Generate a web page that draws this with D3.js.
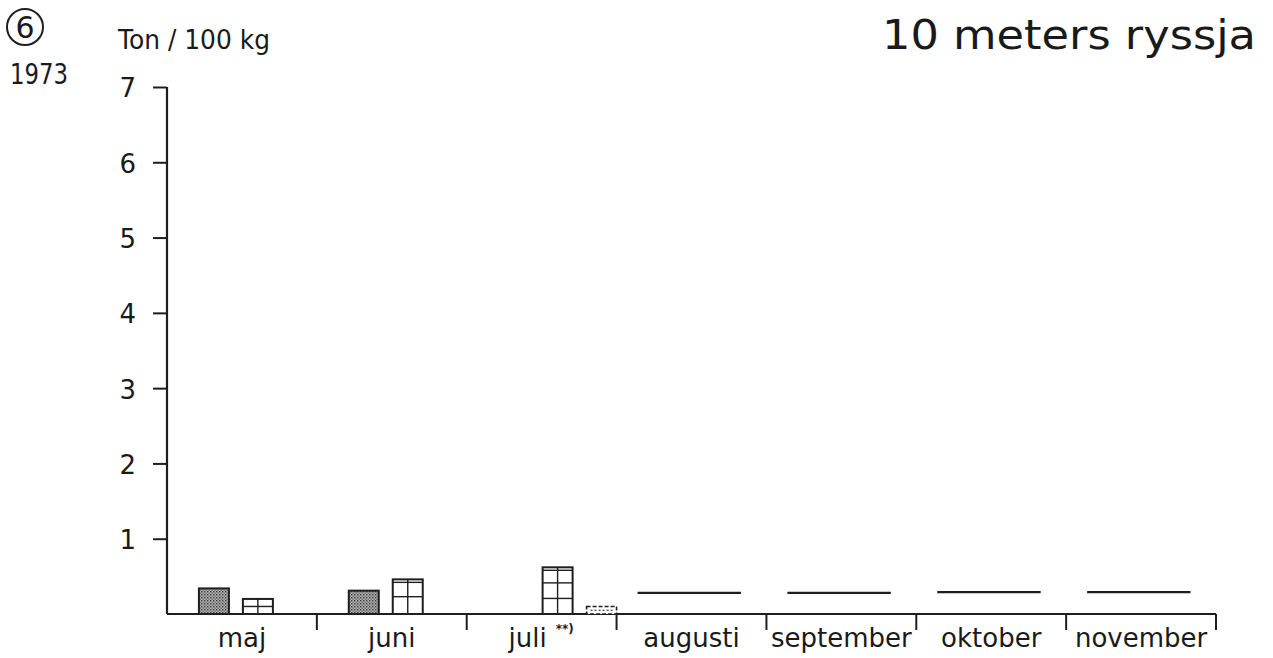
<!DOCTYPE html>
<html><head><meta charset="utf-8">
<script src="https://cdn.jsdelivr.net/npm/d3@7"></script>
<style>
body{margin:0;background:#fff;}
svg{display:block;}
text{font-family:"DejaVu Sans","Noto Sans",sans-serif;fill:#1a1a1a;}
</style></head>
<body>
<svg id="c" width="1273" height="658"></svg>
<script>
const months = ["maj","juni","juli","augusti","september","oktober","november"];
const stippled = [0.34, 0.31, 0, null, null, null, null];
const gridded  = [0.20, 0.46, 0.62, null, null, null, null];
const dashedSmall = [0, 0, 0.10, null, null, null, null];
const levelLine = [null, null, null, 0.28, 0.28, 0.29, 0.29];
const yTicks = [1,2,3,4,5,6,7];
const series = ["stippled","gridded","dashed"];

const svg = d3.select("#c");
const ink = "#1e1e1e";

const defs = svg.append("defs");
const pat = defs.append("pattern").attr("id","stip").attr("patternUnits","userSpaceOnUse")
  .attr("width",3).attr("height",3);
pat.append("rect").attr("width",3).attr("height",3).attr("fill","#b4b4b4");
pat.append("rect").attr("width",1.4).attr("height",1.4).attr("fill","#3a3a3a");
pat.append("rect").attr("x",1.5).attr("y",1.5).attr("width",1.3).attr("height",1.3).attr("fill","#5a5a5a");

const x = d3.scaleBand().domain(months).range([167,1216]).padding(0);
const y = d3.scaleLinear().domain([0,7]).range([614,87]);
const bw = x.bandwidth();
const xi = d3.scaleBand().domain(series).range([bw*0.213, bw*1.0]).paddingInner(0.318).paddingOuter(0);

const yAxis = d3.axisLeft(y).tickValues(yTicks).tickSize(14).tickPadding(17).tickFormat(d3.format("d"));
const gy = svg.append("g").attr("transform","translate(167,0)").call(yAxis);
gy.select(".domain").attr("d",`M0,${y(7)}V${y(0)}`).attr("stroke",ink).attr("stroke-width",2.2);
gy.selectAll(".tick line").attr("stroke",ink).attr("stroke-width",2);
gy.selectAll(".tick text").attr("font-size",26).attr("fill",ink).attr("dy","0.38em");

const boundaries = months.slice(1).map(m=>x(m)).concat([x(months[months.length-1])+bw]);
const gx = svg.append("g");
gx.append("line").attr("x1",167).attr("x2",x.range()[1]).attr("y1",y(0)).attr("y2",y(0))
  .attr("stroke",ink).attr("stroke-width",2.2);
gx.selectAll("line.tk").data(boundaries).join("line").attr("class","tk")
  .attr("x1",d=>d).attr("x2",d=>d).attr("y1",y(0)).attr("y2",y(0)+16)
  .attr("stroke",ink).attr("stroke-width",2);
gx.selectAll("text.ml").data(months).join("text").attr("class","ml")
  .attr("x",d=>x(d)+bw/2 - (d==="juli"?14:0)).attr("y",647).attr("text-anchor","middle")
  .attr("font-size",26).text(d=>d);
svg.append("text").attr("x",x("juli")+bw/2+14).attr("y",633).attr("font-size",12).attr("font-weight","bold").text("**)");

const sData = months.map((m,i)=>({m,v:stippled[i]})).filter(d=>d.v>0);
svg.selectAll("rect.st").data(sData).join("rect").attr("class","st")
  .attr("x",d=>x(d.m)+xi("stippled")).attr("width",xi.bandwidth())
  .attr("y",d=>y(d.v)).attr("height",d=>y(0)-y(d.v))
  .attr("fill","url(#stip)").attr("stroke",ink).attr("stroke-width",2);

const gData = months.map((m,i)=>({m,v:gridded[i]})).filter(d=>d.v>0);
const gg = svg.selectAll("g.gr").data(gData).join("g").attr("class","gr");
gg.append("rect")
  .attr("x",d=>x(d.m)+xi("gridded")).attr("width",xi.bandwidth())
  .attr("y",d=>y(d.v)).attr("height",d=>y(0)-y(d.v))
  .attr("fill","#fff").attr("stroke",ink).attr("stroke-width",2);
gg.append("line")
  .attr("x1",d=>x(d.m)+xi("gridded")+xi.bandwidth()/2).attr("x2",d=>x(d.m)+xi("gridded")+xi.bandwidth()/2)
  .attr("y1",d=>y(d.v)).attr("y2",y(0)).attr("stroke",ink).attr("stroke-width",1.4);
gg.each(function(d){
  const top = y(d.v), bot = y(0), h = bot-top;
  const n = Math.max(1, Math.round(h/16.5));
  const step = h/n;
  const ys = [];
  if (h < 20) ys.push(top + h/2);
  else { for (let k=1;k<n;k++) ys.push(bot - k*step); ys.push(top+3); }
  d3.select(this).selectAll("line.h").data(ys).join("line").attr("class","h")
    .attr("x1",x(d.m)+xi("gridded")).attr("x2",x(d.m)+xi("gridded")+xi.bandwidth())
    .attr("y1",v=>v).attr("y2",v=>v).attr("stroke",ink).attr("stroke-width",1.4);
});

const dData = months.map((m,i)=>({m,v:dashedSmall[i]})).filter(d=>d.v>0);
const dg = svg.selectAll("g.ds").data(dData).join("g").attr("class","ds");
dg.append("rect")
  .attr("x",d=>x(d.m)+xi("dashed")).attr("width",xi.bandwidth())
  .attr("y",d=>y(d.v)).attr("height",d=>y(0)-y(d.v))
  .attr("fill","#fff").attr("stroke",ink).attr("stroke-width",1.6).attr("stroke-dasharray","4,2");
dg.append("line")
  .attr("x1",d=>x(d.m)+xi("dashed")+4).attr("x2",d=>x(d.m)+xi("dashed")+xi.bandwidth()-4)
  .attr("y1",d=>(y(d.v)+y(0))/2).attr("y2",d=>(y(d.v)+y(0))/2)
  .attr("stroke",ink).attr("stroke-width",1).attr("stroke-dasharray","2,2");

const lData = months.map((m,i)=>({m,v:levelLine[i]})).filter(d=>d.v!=null);
svg.selectAll("line.lv").data(lData).join("line").attr("class","lv")
  .attr("x1",d=>x(d.m)+bw*0.14).attr("x2",d=>x(d.m)+bw*0.83)
  .attr("y1",d=>y(d.v)).attr("y2",d=>y(d.v))
  .attr("stroke",ink).attr("stroke-width",2.2);

svg.append("circle").attr("cx",25).attr("cy",27).attr("r",18).attr("fill","none").attr("stroke",ink).attr("stroke-width",2);
svg.append("text").attr("x",25).attr("y",38).attr("text-anchor","middle").attr("font-size",30).text("6");
svg.append("text").attr("x",10).attr("y",84).attr("font-size",28).attr("textLength",58).attr("lengthAdjust","spacingAndGlyphs").text("1973");
svg.append("text").attr("x",118).attr("y",49).attr("font-size",27).attr("textLength",152).attr("lengthAdjust","spacingAndGlyphs").text("Ton / 100 kg");
svg.append("text").attr("x",1256).attr("y",49).attr("text-anchor","end").attr("font-size",40).attr("textLength",374).attr("lengthAdjust","spacingAndGlyphs").text("10 meters ryssja");
</script>
</body></html>
